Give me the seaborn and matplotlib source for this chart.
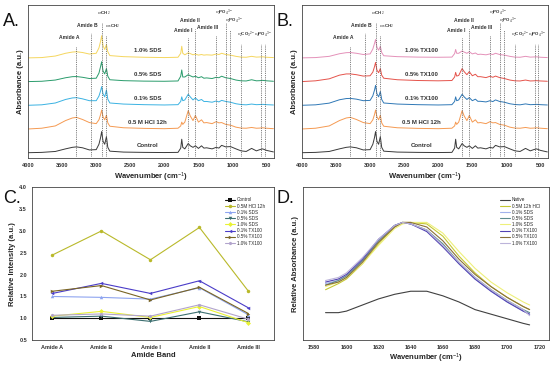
import numpy as np
import pandas as pd
import matplotlib
matplotlib.use('Agg')
import matplotlib.pyplot as plt
import seaborn as sns

sns.set_theme(style='white')
plt.rcParams['font.family'] = ['Liberation Sans', 'DejaVu Sans']
plt.rcParams['mathtext.fontset'] = 'custom'
plt.rcParams['mathtext.rm'] = 'Liberation Sans'
plt.rcParams['mathtext.it'] = 'Liberation Sans:italic'

# ---------------- FTIR spectra (panels A and B) ----------------
wn = [4000, 3800, 3600, 3450, 3350, 3290, 3200, 3100, 3000, 2960, 2935, 2920,
      2900, 2875, 2850, 2830, 2800, 2600, 2300, 2000, 1800, 1760, 1745, 1730,
      1700, 1650, 1620, 1580, 1545, 1500, 1455, 1420, 1380, 1300, 1240, 1200,
      1160, 1100, 1030, 950, 875, 800, 720, 650, 600, 560, 500, 400]

control = [0.0, 0.02, 0.08, 0.25, 0.35, 0.38, 0.32, 0.18, 0.2, 0.55, 1.0, 1.38,
           0.75, 0.55, 1.05, 0.35, 0.1, 0.04, 0.02, 0.01, 0.02, 0.3, 0.88, 0.35,
           0.25, 0.6, 0.45, 0.35, 0.45, 0.28, 0.45, 0.3, 0.32, 0.25, 0.35, 0.3,
           0.48, 0.38, 0.4, 0.25, 0.12, 0.08, 0.28, 0.12, 0.2, 0.25, 0.15, 0.05]
hcl = [0.0, 0.05, 0.2, 0.55, 0.72, 0.76, 0.62, 0.42, 0.35, 0.6, 0.95, 1.24,
       0.8, 0.6, 0.9, 0.4, 0.18, 0.08, 0.04, 0.02, 0.05, 0.2, 0.45, 0.3,
       0.45, 1.2, 0.85, 0.55, 0.88, 0.45, 0.6, 0.4, 0.42, 0.35, 0.48, 0.4,
       0.42, 0.3, 0.25, 0.12, 0.06, 0.05, 0.1, 0.05, 0.06, 0.08, 0.05, 0.02]
sds01 = [0.0, 0.03, 0.15, 0.38, 0.48, 0.5, 0.42, 0.3, 0.3, 0.6, 0.95, 1.22,
         0.75, 0.55, 1.0, 0.4, 0.15, 0.08, 0.04, 0.02, 0.04, 0.25, 0.55, 0.3,
         0.35, 0.72, 0.55, 0.35, 0.48, 0.3, 0.38, 0.25, 0.25, 0.2, 0.28, 0.22,
         0.32, 0.25, 0.2, 0.1, 0.05, 0.03, 0.08, 0.04, 0.05, 0.06, 0.04, 0.02]
sds05 = [0.0, 0.02, 0.1, 0.25, 0.32, 0.33, 0.28, 0.2, 0.22, 0.55, 1.0, 1.3,
         0.7, 0.5, 0.85, 0.35, 0.12, 0.06, 0.03, 0.02, 0.04, 0.35, 0.76, 0.3,
         0.3, 0.45, 0.38, 0.3, 0.35, 0.25, 0.32, 0.22, 0.24, 0.2, 0.28, 0.25,
         0.35, 0.25, 0.2, 0.1, 0.05, 0.04, 0.12, 0.05, 0.06, 0.08, 0.05, 0.02]
sds10 = [0.0, 0.02, 0.12, 0.3, 0.38, 0.4, 0.35, 0.25, 0.3, 0.65, 1.1, 1.45,
         0.8, 0.55, 0.87, 0.4, 0.15, 0.08, 0.04, 0.02, 0.04, 0.3, 0.76, 0.3,
         0.2, 0.33, 0.28, 0.2, 0.25, 0.18, 0.22, 0.18, 0.2, 0.18, 0.25, 0.22,
         0.3, 0.22, 0.18, 0.1, 0.05, 0.04, 0.1, 0.05, 0.06, 0.07, 0.04, 0.02]
tx01 = [0.0, 0.03, 0.14, 0.36, 0.44, 0.45, 0.4, 0.3, 0.32, 0.62, 1.0, 1.3,
        0.75, 0.55, 0.9, 0.38, 0.15, 0.08, 0.04, 0.02, 0.04, 0.25, 0.55, 0.3,
        0.35, 0.72, 0.55, 0.38, 0.5, 0.3, 0.4, 0.26, 0.26, 0.22, 0.3, 0.24,
        0.35, 0.25, 0.2, 0.1, 0.05, 0.03, 0.09, 0.04, 0.05, 0.06, 0.04, 0.02]
tx05 = [0.0, 0.05, 0.18, 0.42, 0.5, 0.5, 0.45, 0.36, 0.38, 0.62, 0.98, 1.25,
        0.75, 0.58, 0.85, 0.42, 0.22, 0.12, 0.07, 0.05, 0.07, 0.3, 0.6, 0.36,
        0.4, 0.85, 0.65, 0.45, 0.65, 0.38, 0.48, 0.32, 0.32, 0.26, 0.35, 0.28,
        0.36, 0.26, 0.2, 0.1, 0.05, 0.04, 0.1, 0.04, 0.05, 0.06, 0.04, 0.02]
tx10 = [0.0, 0.02, 0.1, 0.27, 0.34, 0.35, 0.3, 0.22, 0.26, 0.58, 0.95, 1.2,
        0.7, 0.5, 0.75, 0.35, 0.14, 0.08, 0.05, 0.04, 0.05, 0.28, 0.55, 0.3,
        0.3, 0.45, 0.38, 0.3, 0.4, 0.26, 0.32, 0.22, 0.24, 0.2, 0.26, 0.22,
        0.3, 0.22, 0.18, 0.1, 0.05, 0.04, 0.1, 0.05, 0.06, 0.07, 0.04, 0.02]

names_a = ['Control', '0.5 M HCl 12h', '0.1% SDS', '0.5% SDS', '1.0% SDS']
names_b = ['Control', '0.5 M HCl 12h', '0.1% TX100', '0.5% TX100', '1.0% TX100']
spectra_a = [control, hcl, sds01, sds05, sds10]
spectra_b = [control, hcl, tx01, tx05, tx10]
colors_a = ['#3a3a3a', '#f59a52', '#3ab2e2', '#2a9c6c', '#f5d65e']
colors_b = ['#3a3a3a', '#f59a52', '#2f78b6', '#e5534b', '#e491b9']
offsets = [0.35, 1.9, 3.45, 5.0, 6.55]

band_pos = [3290, 3080, 2920, 2850, 1650, 1545, 1240, 1095, 1030, 880, 575, 530]
band_top = [7.35, 8.15, 8.85, 8.05, 7.85, 8.45, 8.05, 8.85, 8.35, 7.45, 7.45, 7.45]
band_labels = ['Amide A', 'Amide B', r'$\nu_s$CH$_2$', r'$\nu_{as}$CH$_2$',
               'Amide I', 'Amide II', 'Amide III', r'$\nu_3$PO$_4$$^{3-}$',
               r'$\nu_1$PO$_4$$^{3-}$', r'$\nu_2$CO$_3$$^{2-}$', r'$\nu_4$PO$_4$$^{3-}$']
label_x = [3390, 3127, 2882, 2760, 1731, 1623, 1370, 1125, 974, 803, 550]
label_y = [7.7, 8.5, 9.2, 8.4, 8.2, 8.8, 8.4, 9.2, 8.7, 7.8, 7.8]

# ---------------- Panel C ----------------
bands = ['Amide A', 'Amide B', 'Amide I', 'Amide II', 'Amide III']
rel_control = [1.0, 1.0, 1.0, 1.0, 1.0]
rel_hcl = [2.45, 3.0, 2.34, 3.08, 1.62]
rel_sds01 = [1.50, 1.48, 1.44, 1.70, 1.08]
rel_sds05 = [1.02, 1.05, 0.93, 1.15, 0.92]
rel_sds10 = [1.05, 1.16, 1.02, 1.27, 0.90]
rel_tx01 = [1.57, 1.80, 1.57, 1.86, 1.24]
rel_tx05 = [1.62, 1.75, 1.42, 1.71, 1.11]
rel_tx10 = [1.07, 1.10, 1.05, 1.31, 0.98]
c_names = ['Control', '0.5M HCl 12h', '0.1% SDS', '0.5% SDS', '1.0% SDS',
           '0.1% TX100', '0.5% TX100', '1.0% TX100']
c_values = [rel_control, rel_hcl, rel_sds01, rel_sds05, rel_sds10,
            rel_tx01, rel_tx05, rel_tx10]
c_colors = ['#111111', '#b9b92a', '#8ea4f0', '#3d6f70', '#e9f233',
            '#4a3cc8', '#7a6524', '#b2a4cc']
c_markers = ['s', 'o', '^', 'v', 'D', '<', '>', 'h']

# ---------------- Panel D (Amide I region) ----------------
wn_d = [1587, 1595, 1600, 1610, 1620, 1630, 1635, 1640, 1650, 1660, 1670,
        1680, 1690, 1700, 1710, 1714]
d_native = [0.18, 0.18, 0.19, 0.23, 0.27, 0.30, 0.31, 0.32, 0.32, 0.29, 0.25,
            0.20, 0.17, 0.14, 0.11, 0.10]
d_hcl = [0.33, 0.37, 0.40, 0.50, 0.63, 0.74, 0.77, 0.77, 0.76, 0.68, 0.55,
         0.44, 0.35, 0.28, 0.22, 0.20]
d_sds01 = [0.37, 0.39, 0.42, 0.52, 0.65, 0.75, 0.77, 0.76, 0.72, 0.62, 0.50,
           0.40, 0.32, 0.25, 0.19, 0.17]
d_sds05 = [0.36, 0.39, 0.42, 0.52, 0.65, 0.75, 0.77, 0.76, 0.72, 0.63, 0.51,
           0.41, 0.33, 0.26, 0.20, 0.18]
d_sds10 = [0.35, 0.38, 0.41, 0.50, 0.62, 0.73, 0.76, 0.77, 0.77, 0.70, 0.58,
           0.47, 0.38, 0.31, 0.25, 0.23]
d_tx01 = [0.38, 0.40, 0.43, 0.53, 0.66, 0.75, 0.77, 0.76, 0.71, 0.61, 0.50,
          0.40, 0.32, 0.25, 0.19, 0.17]
d_tx05 = [0.36, 0.38, 0.41, 0.51, 0.64, 0.74, 0.77, 0.77, 0.74, 0.65, 0.53,
          0.43, 0.35, 0.28, 0.22, 0.20]
d_tx10 = [0.39, 0.41, 0.44, 0.54, 0.66, 0.75, 0.77, 0.76, 0.72, 0.62, 0.51,
          0.41, 0.33, 0.26, 0.20, 0.16]
d_names = ['Native', '0.5M 12h HCl', '0.1% SDS', '0.5% SDS', '1.0% SDS',
           '0.1% TX100', '0.5% TX100', '1.0% TX100']
d_values = [d_native, d_hcl, d_sds01, d_sds05, d_sds10, d_tx01, d_tx05, d_tx10]
d_colors = ['#404040', '#c5c832', '#a2b2ec', '#5e8c8e', '#eef07a',
            '#5242b2', '#8a7038', '#bcb4da']

bold = {'fontweight': 'bold'}


def style_axes(ax):
    for s in ax.spines.values():
        s.set_linewidth(0.6)
        s.set_color('#444444')
    ax.tick_params(axis='both', labelsize=4, length=2, width=0.5,
                   direction='out', pad=1.5, colors='#333333')
    for lab in ax.get_xticklabels() + ax.get_yticklabels():
        lab.set_fontweight('bold')


def draw_spectra(ax, spectra, names, colors):
    for y, name, col, off in zip(spectra, names, colors, offsets):
        yy = np.array(y) + off
        sns.lineplot(x=wn, y=yy, ax=ax, color=col, lw=0.7, sort=False,
                     estimator=None)
        ax.text(2250, off + 0.45, name, fontsize=4.3, ha='center', va='center',
                color='#333333', **bold)
    for x, top in zip(band_pos, band_top):
        ax.plot([x, x], [0.15, top], ls=(0, (1, 1.2)), lw=0.6, color='#555555')
    for x, y, lab in zip(label_x, label_y, band_labels):
        fs = 3.2 if lab.startswith('$') else 3.6
        ax.text(x, y, lab, fontsize=fs, ha='center', va='bottom',
                color='#333333', **bold)
    ax.set_xlim(4000, 393)
    ax.set_ylim(0, 10)
    ax.set_xticks(range(4000, 499, -500))
    ax.set_yticks([])
    ax.set_xlabel('Wavenumber (cm$^{-1}$)', fontsize=5.5, labelpad=2, **bold)
    ax.set_ylabel('Absorbance (a.u.)', fontsize=5.5, labelpad=3, **bold)
    style_axes(ax)


fig = plt.figure(figsize=(5.5, 3.65), dpi=100)
ax_a = fig.add_axes([0.051, 0.567, 0.447, 0.419])
ax_b = fig.add_axes([0.549, 0.567, 0.447, 0.419])
ax_c = fig.add_axes([0.058, 0.068, 0.440, 0.419])
ax_d = fig.add_axes([0.551, 0.068, 0.447, 0.419])

draw_spectra(ax_a, spectra_a, names_a, colors_a)
draw_spectra(ax_b, spectra_b, names_b, colors_b)

# Panel C
for name, vals, col, mk in zip(c_names, c_values, c_colors, c_markers):
    sns.lineplot(x=list(range(len(bands))), y=vals, ax=ax_c, color=col, lw=0.8,
                 marker=mk, markersize=2.5, markeredgewidth=0, label=name)
ax_c.set_xticks(range(len(bands)))
ax_c.set_xticklabels(bands)
ax_c.set_xlim(-0.42, 4.52)
ax_c.set_ylim(0.5, 4.0)
ax_c.set_yticks(np.arange(0.5, 4.01, 0.5))
ax_c.set_xlabel('Amide Band', fontsize=5.5, labelpad=1.5, **bold)
ax_c.set_ylabel('Relative Intensity (a.u.)', fontsize=5.5, labelpad=2, **bold)
ax_c.legend(loc='upper right', fontsize=3.3, frameon=False, handlelength=2.2,
            labelspacing=0.25, bbox_to_anchor=(0.98, 0.96), handletextpad=0.4)
style_axes(ax_c)

# Panel D
for name, vals, col in zip(d_names, d_values, d_colors):
    sns.lineplot(x=wn_d, y=vals, ax=ax_d, color=col, lw=0.8, label=name)
ax_d.set_xlim(1573, 1726)
ax_d.set_ylim(0, 1)
ax_d.set_xticks(range(1580, 1721, 20))
ax_d.set_yticks([])
ax_d.set_xlabel('Wavenumber (cm$^{-1}$)', fontsize=5.5, labelpad=1.5, **bold)
ax_d.set_ylabel('Relative Absorbance (a.u.)', fontsize=5.5, labelpad=3, **bold)
ax_d.legend(loc='upper right', fontsize=3.3, frameon=False, handlelength=2.2,
            labelspacing=0.25, bbox_to_anchor=(0.98, 0.96), handletextpad=0.4)
style_axes(ax_d)

for x, y, letter in [(0.005, 0.965, 'A.'), (0.503, 0.965, 'B.'),
                     (0.005, 0.48, 'C.'), (0.503, 0.48, 'D.')]:
    fig.text(x, y, letter, fontsize=13, va='top', ha='left', color='#111111')

fig.savefig('out.png', dpi=100)
plt.close(fig)
